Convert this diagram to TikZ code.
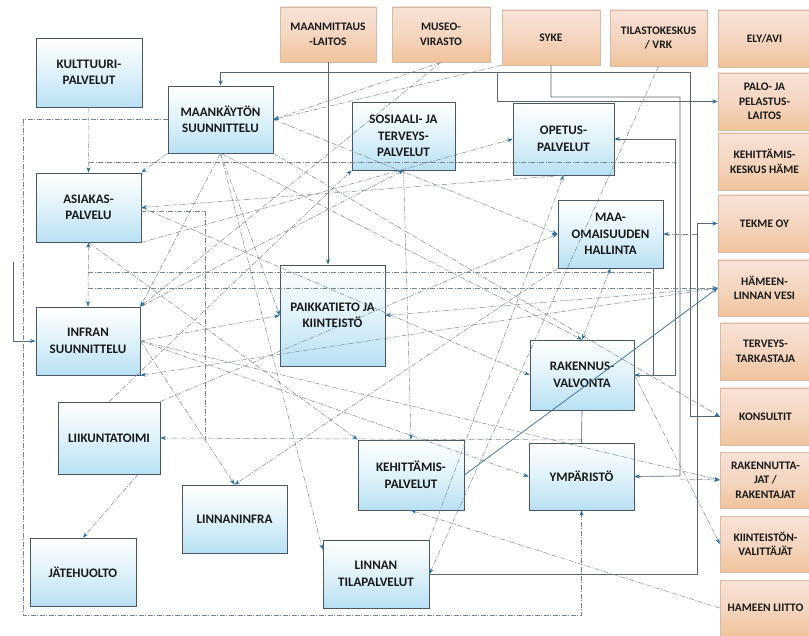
\documentclass[tikz,border=0pt]{standalone}
\usepackage{fontspec}
\setmainfont{Carlito}[BoldFont={Carlito Bold}]
\usetikzlibrary{arrows.meta, positioning}
\definecolor{boxblue}{HTML}{B8E1F3}
\definecolor{boxedge}{HTML}{4A5661}
\definecolor{peachtop}{HTML}{F8E2D8}
\definecolor{peachbot}{HTML}{F0C39C}
\definecolor{peachedge}{HTML}{D9BBA4}
\definecolor{linkgray}{HTML}{7A8792}
\definecolor{busgray}{HTML}{5A6772}
\definecolor{tipblue}{HTML}{2B6E9C}

\begin{document}
\begin{tikzpicture}[x=1pt, y=-1pt,
	unit/.style={rectangle, draw=boxedge, line width=0.8pt, top color=white, bottom color=boxblue, middle color=white!55!boxblue, minimum width=105pt, minimum height=68pt, align=center, inner sep=1pt, text=black!90, font=\bfseries\fontsize{13}{16.5}\selectfont},
	partner/.style={rectangle, draw=peachedge, line width=0.5pt, top color=peachtop, bottom color=peachbot, middle color=peachtop!60!peachbot, minimum width=97pt, minimum height=56pt, align=center, inner sep=1pt, text=black!90, font=\bfseries\fontsize{11.5}{14.5}\selectfont},
	link/.style={draw=linkgray, line width=0.5pt, dash pattern=on 5pt off 1.5pt on 1pt off 1.5pt},
	bus/.style={draw=busgray, line width=0.65pt},
	tip/.style={-{Stealth[length=5.5pt, width=4pt, color=tipblue]}},
	tips/.style={{Stealth[length=5.5pt, width=4pt, color=tipblue]}-{Stealth[length=5.5pt, width=4pt, color=tipblue]}}]
	\useasboundingbox (0,0) rectangle (809,636);
	
	\node[unit, minimum width=106pt, minimum height=69pt] (kult) at (89,72.5) {KULTTUURI-\\PALVELUT};
	\node[unit, minimum height=67pt] (maank) at (220.5,119.5) {MAANKÄYTÖN\\SUUNNITTELU};
	\node[unit, minimum width=103pt] (sos) at (403.5,136) {SOSIAALI- JA\\TERVEYS-\\PALVELUT};
	\node[unit, minimum width=101pt, minimum height=72pt] (opetus) at (563.5,139) {OPETUS-\\PALVELUT};
	\node[unit, minimum height=69pt] (asiak) at (88.5,207.5) {ASIAKAS-\\PALVELU};
	\node[unit] (maa) at (610.5,234) {MAA-\\OMAISUUDEN\\HALLINTA};
	\node[unit, minimum height=101pt] (paikka) at (332.5,315.5) {PAIKKATIETO JA\\KIINTEISTÖ};
	\node[unit, minimum width=104pt] (infran) at (88,341) {INFRAN\\SUUNNITTELU};
	\node[unit, minimum width=104pt, minimum height=70pt] (rak) at (582,375) {RAKENNUS-\\VALVONTA};
	\node[unit, minimum width=102pt, minimum height=72pt] (liik) at (109,438) {LIIKUNTATOIMI};
	\node[unit, minimum width=106pt, minimum height=70pt] (kehit) at (411,475) {KEHITTÄMIS-\\PALVELUT};
	\node[unit, minimum height=67pt] (ymp) at (581.5,476.5) {YMPÄRISTÖ};
	\node[unit] (linfra) at (234.5,519) {LINNANINFRA};
	\node[unit, minimum width=106pt] (jate) at (83,572) {JÄTEHUOLTO};
	\node[unit, minimum width=106pt] (tila) at (376,574) {LINNAN\\TILAPALVELUT};
	
	\node[partner, minimum width=96pt, minimum height=55pt] (mml) at (328,34.5) {MAANMITTAUS\\-LAITOS};
	\node[partner, minimum width=98pt, minimum height=55pt] (museo) at (441,34.5) {MUSEO-\\VIRASTO};
	\node[partner, minimum width=98pt, minimum height=55pt] (syke) at (551,37.5) {SYKE};
	\node[partner] (tilasto) at (658.5,38) {TILASTOKESKUS\\/ VRK};
	\node[partner, minimum width=93pt, minimum height=57pt] (ely) at (764.5,38.5) {ELY/AVI};
	\node[partner, minimum width=93pt, minimum height=57pt] (palo) at (764.5,101.5) {PALO- JA\\PELASTUS-\\LAITOS};
	\node[partner, minimum width=93pt, minimum height=57pt] (khame) at (764.5,161.5) {KEHITTÄMIS-\\KESKUS HÄME};
	\node[partner, minimum width=93pt, minimum height=57pt] (tekme) at (764.5,223.5) {TEKME OY};
	\node[partner, minimum width=93pt] (vesi) at (764.5,288) {HÄMEEN-\\LINNAN VESI};
	\node[partner, minimum width=91pt, minimum height=57pt] (terv) at (765.5,351.5) {TERVEYS-\\TARKASTAJA};
	\node[partner, minimum width=91pt, minimum height=57pt] (kons) at (765.5,416.5) {KONSULTIT};
	\node[partner, minimum width=91pt] (rakt) at (765.5,480) {RAKENNUTTA-\\JAT /\\RAKENTAJAT};
	\node[partner, minimum width=91pt] (kiint) at (765.5,544) {KIINTEISTÖN-\\VALITTÄJÄT};
	\node[partner, minimum width=91pt] (liitto) at (765.5,608) {HAMEEN LIITTO};
	
	\coordinate (lstub) at (13,262);
	\coordinate (topbus) at (497,72);
	\coordinate (maabus) at (697,234);
	\coordinate (raktbus) at (680,479);
	\coordinate (liikbus) at (582,440);
	\coordinate (asibus) at (205,440);
	\coordinate (crossa) at (89,162);
	\coordinate (crossb) at (675,162);
	\coordinate (crossc) at (88,272);
	\coordinate (crossd) at (653,272);
	
	\draw[bus, tip] (mml.south) -- (mml.south |- paikka.north);
	\draw[bus, tip] (syke.south) -- (551,97) -| (680,476) -- (ymp.east);
	\draw[bus, tip] (kons.west) -| (690,72) -| (maank.north);
	\draw[bus, tip] (topbus) |- (palo.west);
	\draw[bus, tip] (rak.east) -| (675,139) -- (opetus.east);
	\draw[bus, tip] ([xshift=-10pt]maa.south east) |- (rak.east);
	\draw[bus, tip] (tila.east) -| (697,223.5) -- (tekme.west);
	\draw[bus] (rak.south) -- (ymp.north);
	\draw[bus, tip] (lstub) |- (infran.west);
	\draw[link, tip] (maabus) -- (maa.east);
	\draw[link, tip] (raktbus) -- (rakt.west);
	\draw[link, tip] (maank.west) -| (23,615) -| (ymp.south);
	\draw[link, tip] (liikbus) -- (liik.east);
	\draw[link] ([yshift=-4pt]asiak.east) -| (asibus);
	\draw[link] (crossa) -- (crossb);
	\draw[link] (crossc) -- (crossd);
	\draw[link, tip] (88,288) -- (vesi.west);
	
	\draw[link, tip] (kult.south) -- (asiak.north);
	\draw[link, tips] (asiak.south) -- (infran.north);
	\draw[link, tip] (maank.south) -- ([yshift=-10pt]tila.north west);
	\draw[link, tip] (maank.south) -- (paikka.west);
	\draw[link, tip] (maank.south) -- (rak.north);
	\draw[link, tip] (maank.south) -- (infran.north east);
	\draw[link, tip] (maank.south east) -- (kons.west);
	\draw[link, tip] (maank.south west) -- (asiak.north east);
	\draw[link, tip] (maank.east) -- (maa.west);
	\draw[link, tip] (museo.south) -- (maank.east);
	\draw[link, tip] (syke.south west) -- (maank.east);
	\draw[link, tip] (museo.south) -- (infran.north east);
	\draw[link, tip] (tilasto.south) -- (tila.east);
	\draw[link, tip] (tila.north east) -- (opetus.south);
	\draw[link, tip] (liitto.west) -- (kehit.south);
	\draw[link, tip] (rak.east) -- (kiint.west);
	\draw[link, tip] (asiak.east) -- (rak.west);
	\draw[link, tip] (asiak.south) -- (kehit.north west);
	\draw[link, tip] (infran.east) -- (paikka.west);
	\draw[link, tip] (infran.east) -- (linfra.north);
	\draw[link, tip] (infran.east) -- (rakt.west);
	\draw[link, tip] (infran.east) -- (ymp.west);
	\draw[link, tip] (infran.north east) -- (sos.south);
	\draw[link, tip] (opetus.south) -- (asiak.east);
	\draw[link, tip] (asiak.south east) -- (opetus.west);
	\draw[link, tip] ([xshift=29pt]liik.south) -- (jate.north);
	\draw[link, tip] (liik.north) -- (sos.south west);
	\draw[link, tip] (liik.north east) -- (maa.west);
	\draw[link, tip] (sos.south) -- (kehit.north);
	\draw[link, tip] (maa.south west) -- (linfra.north);
	\draw[link, tips] (maa.south) -- (rak.north);
	\draw[link, tip] (vesi.west) -- (paikka.east);
	\draw[link, tip] (vesi.west) -- (infran.south east);
	\draw[draw=tipblue!60!linkgray, line width=0.8pt, tip] (kehit.east) -- (vesi.west);
\end{tikzpicture}
\end{document}
